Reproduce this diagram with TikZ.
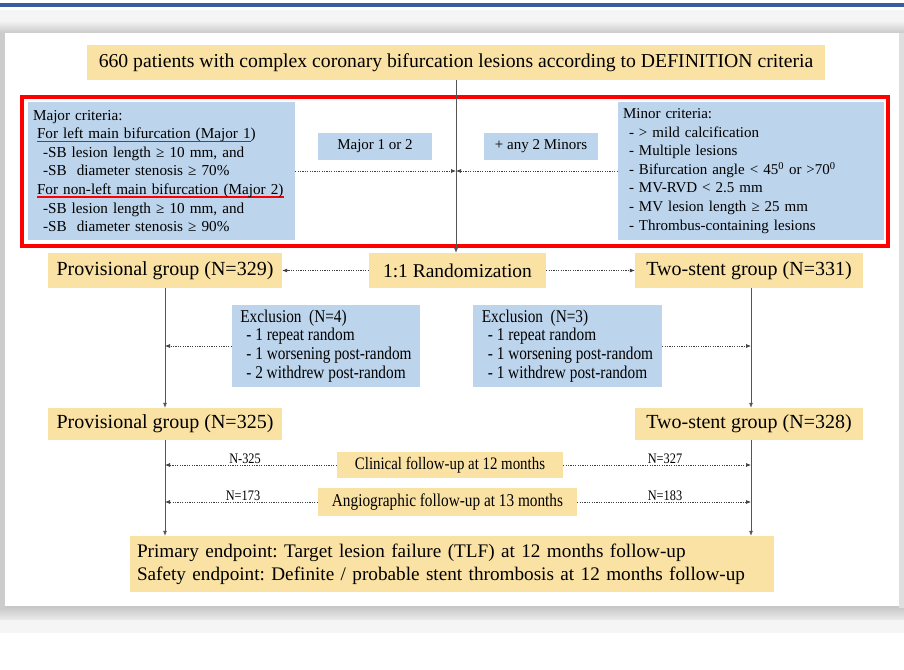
\documentclass[tikz,border=0pt]{standalone}
\usepackage{fontspec}
\setmainfont{Liberation Serif}
\newfontfamily\condfont[FakeStretch=0.85]{Liberation Serif}
\usetikzlibrary{arrows.meta}
\definecolor{ybox}{HTML}{FAE2A4}
\definecolor{bbox}{HTML}{BCD4EC}
\definecolor{topblue}{HTML}{3A5DA0}
\definecolor{linegray}{HTML}{555555}
\newcommand\myul[1]{\setbox0\hbox{#1}\rlap{\color{red}\rule[-3.2pt]{\wd0}{1.3pt}}\box0}
\tikzset{
  yb/.style={fill=ybox, inner sep=0pt, align=center},
  bb/.style={fill=bbox, inner sep=0pt, align=center},
  solidarr/.style={draw=linegray, line width=0.7pt, -{Latex[length=5pt,width=4pt]}},
  dasharr/.style={draw=black!75, line width=0.7pt, dash pattern=on 1.2pt off 1.2pt, -{Latex[length=5pt,width=4pt]}},
  nlab/.style={font=\condfont\fontsize{14.5}{14}\selectfont, inner sep=0pt, anchor=south}
}
\frenchspacing
\begin{document}
\begin{tikzpicture}[x=1pt,y=-1pt]
\frenchspacing
\useasboundingbox (0,0) rectangle (904,669);
\fill[white] (0,0) rectangle (904,669);
% slide frame
\fill[topblue] (0,3) rectangle (904,7);
\fill[gray!8] (0,10) rectangle (904,22);
\shade[top color=gray!12, bottom color=gray!45] (0,22) rectangle (904,34);
\shade[top color=gray!45, bottom color=gray!15] (0,606) rectangle (904,620);
\fill[gray!8] (0,620) rectangle (904,633);
\fill[gray!40] (0,33) rectangle (5,608);
\fill[gray!25] (899,33) rectangle (904,608);
\fill[white] (5,33) rectangle (899,606);

% title
\node[yb, minimum width=738, minimum height=35, font=\fontsize{19.7}{21}\selectfont] (title) at (456,62.5)
  {660 patients with complex coronary bifurcation lesions according to DEFINITION criteria};

% criteria
\node[bb, minimum width=267, minimum height=138, text width=257, align=left, font=\fontsize{15.2}{18.6}\selectfont] (major) at (161.5,171)
  {Major criteria:\\
   \hspace*{4pt}\myul{For left main bifurcation (Major 1}) \\
   \hspace*{10pt}-SB lesion length ≥ 10 mm, and\\
   \hspace*{10pt}-SB\ \ diameter stenosis ≥ 70\%\\
   \hspace*{4pt}\myul{For non-left main bifurcation (Major 2)}\\
   \hspace*{10pt}-SB lesion length ≥ 10 mm, and\\
   \hspace*{10pt}-SB\ \ diameter stenosis ≥ 90\%};
\node[bb, minimum width=266, minimum height=138, text width=256, align=left, font=\fontsize{15}{18.6}\selectfont] (minor) at (751,171)
  {Minor criteria:\\
   \hspace*{6pt}- \textgreater{} mild calcification\\
   \hspace*{6pt}- Multiple lesions\\
   \hspace*{6pt}- Bifurcation angle \textless{} 45\textsuperscript{0} or \textgreater70\textsuperscript{0}\\
   \hspace*{6pt}- MV-RVD \textless{} 2.5 mm\\
   \hspace*{6pt}- MV lesion length ≥ 25 mm\\
   \hspace*{6pt}- Thrombus-containing lesions};
\node[bb, minimum width=114, minimum height=27, font=\fontsize{15}{18}\selectfont] (maj12) at (375,146.5) {Major 1 or 2};
\node[bb, minimum width=114, minimum height=27, font=\fontsize{15}{18}\selectfont] (min2) at (541,146.5) {+ any 2 Minors};
\draw[red, line width=4pt] (22,97) rectangle (888,246);

% randomization row
\node[yb, minimum width=234, minimum height=35, font=\fontsize{20}{22}\selectfont] (prov1) at (165,270.5) {Provisional group (N=329)};
\node[yb, minimum width=177, minimum height=35, font=\fontsize{19.5}{22}\selectfont] (rand) at (457.5,270.5) {1:1 Randomization};
\node[yb, minimum width=228, minimum height=35, font=\fontsize{20}{22}\selectfont] (two1) at (749,270.5) {Two-stent group (N=331)};

\coordinate (cm) at (456,171);
\draw[solidarr] (title.south -| cm) -- (rand.north -| cm);
\draw[dasharr] (major.east) -- (cm);
\draw[dasharr] (minor.west) -- (cm);
\draw[dasharr] (rand.west) -- (prov1.east);
\draw[dasharr] (rand.east) -- (two1.west);

% exclusions
\node[bb, minimum width=188, minimum height=82, align=left, font=\condfont\fontsize{18}{18.7}\selectfont] (ex1) at (326,346)
  {Exclusion\ \ (N=4)\\
   \hspace*{6pt}- 1 repeat random\\
   \hspace*{6pt}- 1 worsening post-random\\
   \hspace*{6pt}- 2 withdrew post-random};
\node[bb, minimum width=189, minimum height=82, align=left, font=\condfont\fontsize{18}{18.7}\selectfont] (ex2) at (567.5,346)
  {Exclusion\ \ (N=3)\\
   \hspace*{6pt}- 1 repeat random\\
   \hspace*{6pt}- 1 worsening post-random\\
   \hspace*{6pt}- 1 withdrew post-random};

% second group row
\node[yb, minimum width=234, minimum height=32, font=\fontsize{20}{22}\selectfont] (prov2) at (165,424) {Provisional group (N=325)};
\node[yb, minimum width=228, minimum height=32, font=\fontsize{20}{22}\selectfont] (two2) at (749,424) {Two-stent group (N=328)};

\coordinate (lx) at (165,0);
\coordinate (rx) at (751,0);
\draw[solidarr] (prov1.south -| lx) -- (prov2.north -| lx);
\draw[solidarr] (two1.south -| rx) -- (two2.north -| rx);
\draw[dasharr] (ex1.west) -- (ex1.west -| lx);
\draw[dasharr] (ex2.east) -- (ex2.east -| rx);

% follow-up
\node[yb, minimum width=226, minimum height=26, font=\condfont\fontsize{17.5}{18}\selectfont] (clin) at (450,465) {Clinical follow-up at 12 months};
\node[yb, minimum width=259, minimum height=28, font=\condfont\fontsize{18}{18}\selectfont] (angio) at (447.5,502) {Angiographic follow-up at 13 months};
\node[yb, minimum width=644, minimum height=56, text width=630, align=left, font=\fontsize{19.2}{23}\selectfont] (endp) at (452,564)
  {Primary endpoint: Target lesion failure (TLF) at 12 months follow-up\\
   Safety endpoint: Definite / probable stent thrombosis at 12 months follow-up};

\draw[solidarr] (prov2.south -| lx) -- (endp.north -| lx);
\draw[solidarr] (two2.south -| rx) -- (endp.north -| rx);
\draw[dasharr] (clin.west) -- (clin.west -| lx);
\draw[dasharr] (clin.east) -- (clin.east -| rx);
\draw[dasharr] (angio.west) -- (angio.west -| lx);
\draw[dasharr] (angio.east) -- (angio.east -| rx);
\node[nlab] (l1) at (245,464) {N-325};
\node[nlab] (l2) at (665,464) {N=327};
\node[nlab] (l3) at (243,501) {N=173};
\node[nlab] (l4) at (665,501) {N=183};
\end{tikzpicture}
\end{document}
